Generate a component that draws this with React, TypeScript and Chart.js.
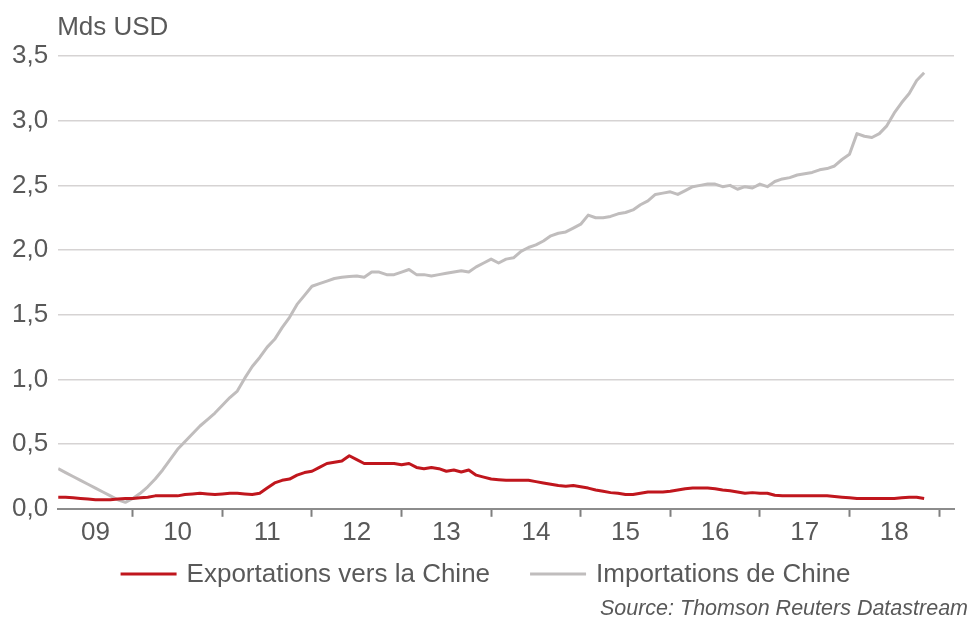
import React, { useEffect, useRef } from "react";
import { Chart, registerables } from "chart.js";

Chart.register(...registerables);

// Monthly series, first point = March 2009 (month index 2, counting from Jan 2009)
const START_MONTH = 2;
const X_MIN = 2;
const X_MAX = 122;

const exportsToChina = [
  0.09, 0.09, 0.085, 0.08, 0.075, 0.07, 0.07, 0.07, 0.075, 0.08,
  0.08, 0.085, 0.09, 0.10, 0.10, 0.10, 0.10, 0.11, 0.115, 0.12,
  0.115, 0.11, 0.115, 0.12, 0.12, 0.115, 0.11, 0.12, 0.16, 0.20,
  0.22, 0.23, 0.26, 0.28, 0.29, 0.32, 0.35, 0.36, 0.37, 0.41,
  0.38, 0.35, 0.35, 0.35, 0.35, 0.35, 0.34, 0.35, 0.32, 0.31,
  0.32, 0.31, 0.29, 0.30, 0.285, 0.30, 0.26, 0.245, 0.23, 0.225,
  0.22, 0.22, 0.22, 0.22, 0.21, 0.20, 0.19, 0.18, 0.175, 0.18,
  0.17, 0.16, 0.145, 0.135, 0.125, 0.12, 0.11, 0.11, 0.12, 0.13,
  0.13, 0.13, 0.135, 0.145, 0.155, 0.16, 0.16, 0.16, 0.155, 0.145,
  0.14, 0.13, 0.12, 0.125, 0.12, 0.12, 0.105, 0.10, 0.10, 0.10,
  0.10, 0.10, 0.10, 0.10, 0.095, 0.09, 0.085, 0.08, 0.08, 0.08,
  0.08, 0.08, 0.08, 0.085, 0.09, 0.09, 0.08,
];

const importsFromChina = [
  0.31, 0.28, 0.25, 0.22, 0.19, 0.16, 0.13, 0.10, 0.07, 0.05,
  0.08, 0.12, 0.17, 0.23, 0.30, 0.38, 0.46, 0.52, 0.58, 0.64,
  0.69, 0.74, 0.80, 0.86, 0.91, 1.01, 1.10, 1.17, 1.25, 1.31,
  1.40, 1.48, 1.58, 1.65, 1.72, 1.74, 1.76, 1.78, 1.79, 1.795,
  1.80, 1.79, 1.83, 1.83, 1.81, 1.81, 1.83, 1.85, 1.81, 1.81,
  1.80, 1.81, 1.82, 1.83, 1.84, 1.83, 1.87, 1.90, 1.93, 1.90,
  1.93, 1.94, 1.99, 2.02, 2.04, 2.07, 2.11, 2.13, 2.14, 2.17,
  2.20, 2.27, 2.25, 2.25, 2.26, 2.28, 2.29, 2.31, 2.35, 2.38,
  2.43, 2.44, 2.45, 2.43, 2.46, 2.49, 2.50, 2.51, 2.51, 2.49,
  2.50, 2.47, 2.49, 2.48, 2.51, 2.49, 2.53, 2.55, 2.56, 2.58,
  2.59, 2.60, 2.62, 2.63, 2.65, 2.70, 2.74, 2.90, 2.88, 2.87,
  2.90, 2.96, 3.06, 3.14, 3.21, 3.31, 3.37,
];

const yearLabels = ["09", "10", "11", "12", "13", "14", "15", "16", "17", "18"];
const seriesLabels = ["Exportations vers la Chine", "Importations de Chine"];
const UNIT = "Mds USD";
const SOURCE = "Source: Thomson Reuters Datastream";

const FONT = '"Liberation Sans", Arial, Helvetica, sans-serif';
const TEXT = "#595959";
const RED = "#c0161d";
const GREY = "#c0bdbd";

export default function App() {
  const ref = useRef<HTMLCanvasElement>(null);

  useEffect(() => {
    const canvas = ref.current!;
    const pts = (arr: number[]) => arr.map((y, i) => ({ x: START_MONTH + i, y }));

    const boundaries: number[] = [];
    for (let m = 12; m < X_MAX; m += 12) boundaries.push(m);
    const labelPos = yearLabels.map((_, k) => {
      const a = Math.max(X_MIN, 12 * k);
      const b = Math.min(X_MAX, 12 * k + 12);
      return (a + b) / 2;
    });

    const extras = {
      id: "extras",
      afterDraw(chart: any) {
        const { ctx, chartArea } = chart;
        ctx.save();
        ctx.fillStyle = TEXT;
        ctx.font = `26px ${FONT}`;
        ctx.textBaseline = "alphabetic";
        ctx.textAlign = "left";
        ctx.fillText(UNIT, chartArea.left - 1, 35);

        const items = chart.data.datasets.map((ds: any) => ({ text: ds.label, color: ds.borderColor }));
        const lineLen = 56, gap = 10, itemGap = 40;
        const widths = items.map((it: any) => ctx.measureText(it.text).width);
        const total =
          widths.reduce((s: number, w: number) => s + lineLen + gap + w, 0) + itemGap * (items.length - 1);
        let x = (chart.width - total) / 2;
        const y = 574;
        items.forEach((it: any, i: number) => {
          ctx.strokeStyle = it.color;
          ctx.lineWidth = 3;
          ctx.beginPath();
          ctx.moveTo(x, y);
          ctx.lineTo(x + lineLen, y);
          ctx.stroke();
          x += lineLen + gap;
          ctx.fillText(it.text, x, 582);
          x += widths[i] + itemGap;
        });

        ctx.font = `italic 21.5px ${FONT}`;
        ctx.textAlign = "right";
        ctx.fillText(SOURCE, chart.width - 3, 615);
        ctx.restore();
      },
    };

    const chart = new Chart(canvas, {
      type: "line",
      data: {
        datasets: [
          {
            label: seriesLabels[0],
            data: pts(exportsToChina),
            borderColor: RED,
            backgroundColor: RED,
            borderWidth: 3,
            pointRadius: 0,
            tension: 0,
            borderJoinStyle: "round",
          },
          {
            label: seriesLabels[1],
            data: pts(importsFromChina),
            borderColor: GREY,
            backgroundColor: GREY,
            borderWidth: 3,
            pointRadius: 0,
            tension: 0,
            borderJoinStyle: "round",
          },
        ],
      },
      options: {
        responsive: false,
        animation: false,
        devicePixelRatio: 1,
        layout: { padding: { top: 56, left: 2, right: 17, bottom: 70 } },
        plugins: {
          legend: { display: false },
          tooltip: { enabled: false },
        },
        scales: {
          x: {
            type: "linear",
            min: X_MIN,
            max: X_MAX,
            afterBuildTicks: (axis: any) => {
              axis.ticks = [...boundaries, ...labelPos]
                .sort((a, b) => a - b)
                .map((v) => ({ value: v }));
            },
            ticks: {
              autoSkip: false,
              maxRotation: 0,
              padding: 0,
              color: TEXT,
              font: { family: FONT, size: 26 },
              callback: (value: any) => {
                const k = labelPos.indexOf(Number(value));
                return k >= 0 ? yearLabels[k] : "";
              },
            },
            grid: {
              drawOnChartArea: false,
              drawTicks: true,
              tickLength: 8,
              tickWidth: 2,
              tickColor: (ctx: any) =>
                ctx.tick && boundaries.includes(ctx.tick.value) ? "#7f7f7f" : "rgba(0,0,0,0)",
            },
            border: { display: true, color: "#8c8c8c", width: 2 },
          },
          y: {
            min: 0,
            max: 3.5,
            ticks: {
              stepSize: 0.5,
              padding: 10,
              color: TEXT,
              font: { family: FONT, size: 26 },
              callback: (v: any) => Number(v).toFixed(1).replace(".", ","),
            },
            grid: { color: "#d6d3d3", lineWidth: 1.5, drawTicks: false },
            border: { display: false },
          },
        },
      },
      plugins: [extras],
    });

    return () => chart.destroy();
  }, []);

  return (
    <div style={{ position: "absolute", left: 0, top: 0, width: 971, height: 618, background: "#fff" }}>
      <canvas ref={ref} width={971} height={618} style={{ display: "block" }} />
    </div>
  );
}
